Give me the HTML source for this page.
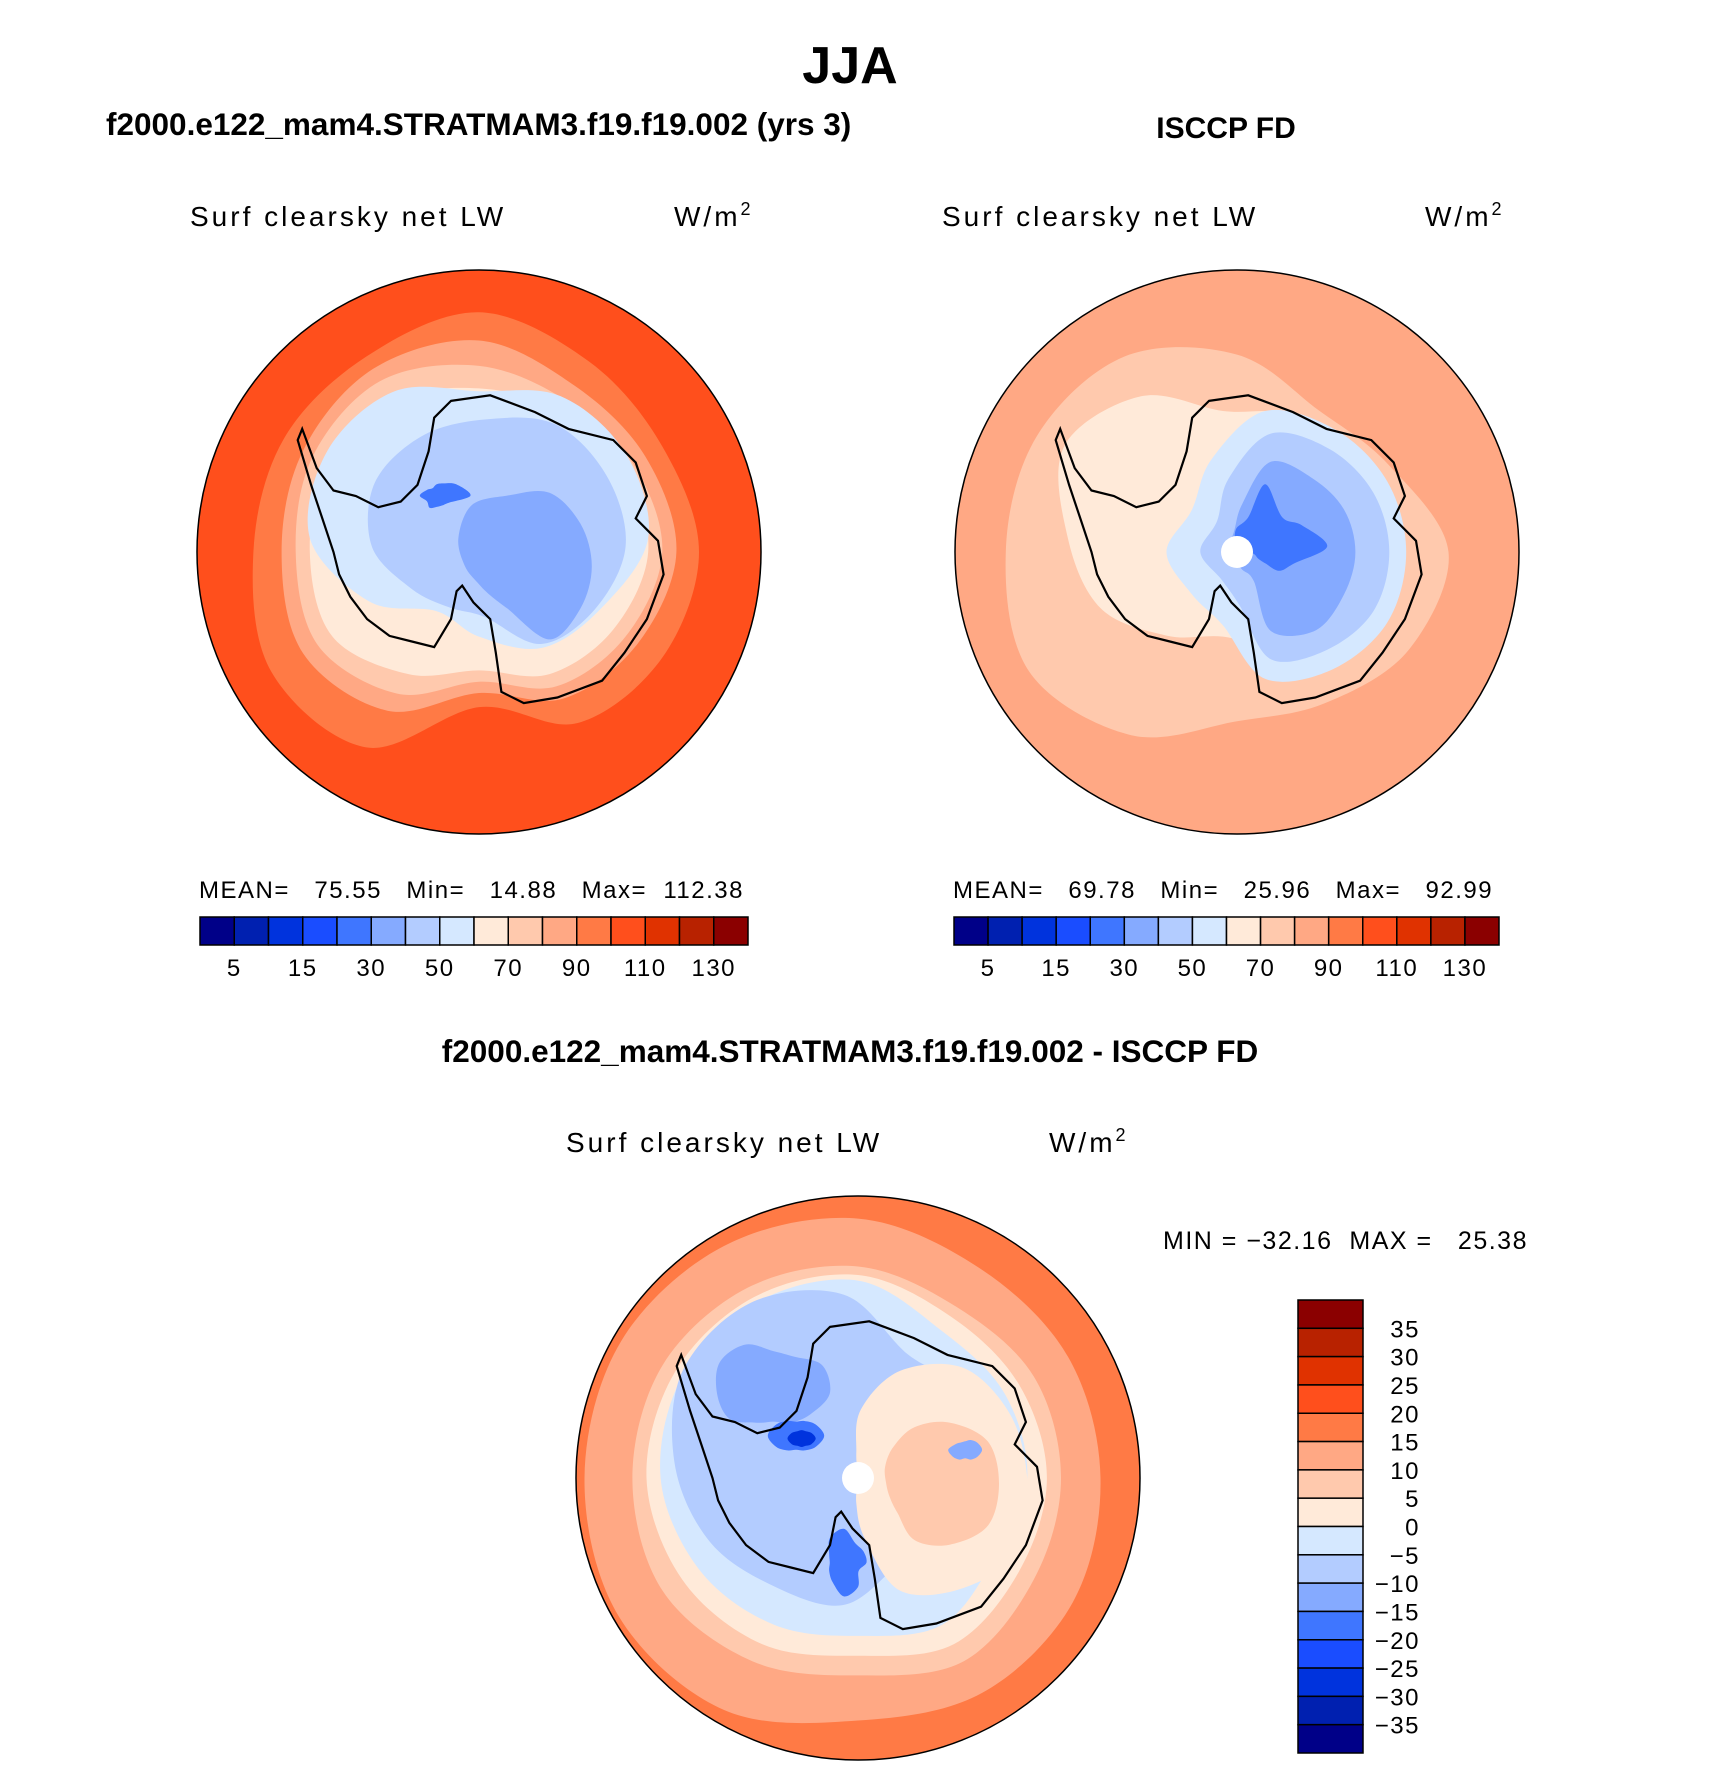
<!DOCTYPE html>
<html><head><meta charset="utf-8"><style>
body{margin:0;background:#fff;}
svg text{font-family:"Liberation Sans",sans-serif;}
</style></head><body>
<svg id="fig" width="1710" height="1763" viewBox="0 0 1710 1763" xmlns="http://www.w3.org/2000/svg">
<text x="850" y="83" font-size="52" font-weight="bold" text-anchor="middle">JJA</text>
<text x="106" y="135" font-size="31.5" font-weight="bold">f2000.e122_mam4.STRATMAM3.f19.f19.002 (yrs 3)</text>
<text x="1226" y="138" font-size="30" font-weight="bold" text-anchor="middle">ISCCP FD</text>
<text x="850" y="1062" font-size="31.5" font-weight="bold" text-anchor="middle">f2000.e122_mam4.STRATMAM3.f19.f19.002 - ISCCP FD</text>
<g font-size="28" letter-spacing="3">
<text x="190" y="226">Surf clearsky net LW</text>
<text x="674" y="226">W/m<tspan font-size="18" dy="-11">2</tspan></text>
<text x="942" y="226">Surf clearsky net LW</text>
<text x="1425" y="226">W/m<tspan font-size="18" dy="-11">2</tspan></text>
<text x="566" y="1152">Surf clearsky net LW</text>
<text x="1049" y="1152">W/m<tspan font-size="18" dy="-11">2</tspan></text>
</g>
<g font-size="24" letter-spacing="1.5">
<text x="199" y="898" xml:space="preserve">MEAN=   75.55   Min=   14.88   Max=  112.38</text>
<text x="953" y="898" xml:space="preserve">MEAN=   69.78   Min=   25.96   Max=   92.99</text>
<text x="1163" y="1249" font-size="25" xml:space="preserve">MIN = −32.16  MAX =   25.38</text>
</g>
<g id="maps"></g>
<g id="bars"></g>
</svg>
<script>
const colors=["#000088","#0020b0","#0033dd","#1a4dff","#3f76ff","#85aaff","#b3ccff","#d5e8ff","#ffead9","#ffc9ad","#ffa884","#ff7a45","#ff4f1c","#e03200","#b82200","#8b0000"];
const absLevels=[5,10,15,20,30,40,50,60,70,80,90,100,110,120,130];
const absLabels=["5","15","30","50","70","90","110","130"];
const diffLevels=[-35,-30,-25,-20,-15,-10,-5,0,5,10,15,20,25,30,35];
const diffLabels=["35","30","25","20","15","10","5","0","−5","−10","−15","−20","−25","−30","−35"];
const model=[
 {v:105,c:[0,0],r:[1,1,1,1,1,1,1,1,1,1,1,1]},
 {v:95,c:[0,0],r:[0.78,0.75,0.7,0.55,0.8,0.85,0.8,0.8,0.8,0.85,0.78,0.75]},
 {v:85,c:[0,0],r:[0.7,0.65,0.6,0.5,0.65,0.72,0.7,0.72,0.75,0.75,0.68,0.68]},
 {v:75,c:[0,0],r:[0.65,0.6,0.55,0.46,0.58,0.66,0.65,0.68,0.7,0.66,0.62,0.63]},
 {v:65,c:[0,0],r:[0.6,0.55,0.5,0.42,0.5,0.6,0.6,0.62,0.62,0.58,0.58,0.6]},
 {v:55,c:[0,-0.05],r:[0.6,0.5,0.45,0.35,0.3,0.45,0.6,0.62,0.6,0.52,0.58,0.6]},
 {v:45,c:[0.02,-0.02],r:[0.5,0.45,0.4,0.25,0.25,0.3,0.4,0.45,0.45,0.45,0.5,0.5]},
 {v:35,c:[0.1,0.05],r:[0.3,0.3,0.3,0.15,0.12,0.12,0.15,0.2,0.25,0.25,0.3,0.3]},
 {v:25,c:[-0.15,-0.2],r:[0.12,0.05,0.04,0.04,0.05,0.04,0.06,0.04,0.03,0.04,0.05,0.08]}
];
const obs=[
 {v:85,c:[0,0],r:[1,1,1,1,1,1,1,1,1,1,1,1]},
 {v:75,c:[0,0],r:[0.75,0.7,0.62,0.6,0.75,0.85,0.82,0.82,0.8,0.7,0.58,0.62]},
 {v:65,c:[-0.05,-0.05],r:[0.55,0.5,0.45,0.35,0.4,0.5,0.55,0.65,0.58,0.45,0.5,0.5]},
 {v:55,c:[0.1,0],r:[0.5,0.5,0.48,0.45,0.3,0.3,0.35,0.3,0.38,0.5,0.5,0.5]},
 {v:45,c:[0.12,0],r:[0.42,0.42,0.4,0.38,0.22,0.2,0.25,0.22,0.3,0.42,0.42,0.42]},
 {v:35,c:[0.12,0],r:[0.3,0.3,0.32,0.28,0.12,0.12,0.15,0.15,0.2,0.32,0.3,0.3]},
 {v:25,c:[0.1,-0.02],r:[0.22,0.12,0.1,0.06,0.05,0.05,0.1,0.12,0.12,0.22,0.12,0.15]}
];
const diff=[
 {v:17.5,c:[0,0],r:[1,1,1,1,1,1,1,1,1,1,1,1]},
 {v:12.5,c:[0,0],r:[0.86,0.88,0.88,0.86,0.95,0.98,0.97,0.97,0.95,0.92,0.86,0.86]},
 {v:7.5,c:[0,0],r:[0.72,0.72,0.75,0.7,0.75,0.8,0.8,0.8,0.78,0.75,0.7,0.72]},
 {v:2.5,c:[0,0],r:[0.67,0.66,0.68,0.63,0.68,0.72,0.75,0.75,0.74,0.72,0.66,0.66]},
 {v:-2.5,c:[0,0],r:[0.6,0.56,0.6,0.56,0.6,0.65,0.7,0.72,0.72,0.7,0.6,0.6]},
 {v:-7.5,c:[-0.05,-0.05],r:[0.45,0.4,0.4,0.5,0.5,0.55,0.6,0.66,0.66,0.6,0.45,0.5]},
 {v:2.5,c:[0.15,0],r:[0.45,0.5,0.45,0.4,0.25,0.18,0.15,0.18,0.28,0.38,0.45,0.45]},
 {v:7.5,c:[0.2,0.02],r:[0.3,0.3,0.25,0.2,0.12,0.1,0.1,0.12,0.15,0.2,0.25,0.3]},
 {v:-12.5,c:[-0.3,-0.3],r:[0.2,0.15,0.12,0.1,0.12,0.18,0.2,0.22,0.2,0.15,0.15,0.2]},
 {v:-17.5,c:[-0.22,-0.15],r:[0.1,0.08,0.06,0.05,0.06,0.08,0.1,0.08,0.06,0.05,0.06,0.08]},
 {v:-27.5,c:[-0.2,-0.14],r:[0.05,0.04,0.03,0.03,0.03,0.04,0.05,0.04,0.03,0.03,0.03,0.04]},
 {v:-17.5,c:[-0.05,0.3],r:[0.08,0.06,0.1,0.12,0.08,0.06,0.05,0.06,0.1,0.12,0.08,0.08]},
 {v:-12.5,c:[0.38,-0.1],r:[0.06,0.05,0.04,0.03,0.04,0.05,0.06,0.04,0.03,0.03,0.04,0.05]}
];
const coast=[[-25,-135],[10,-140],[50,-125],[80,-110],[120,-100],[140,-80],[150,-50],[140,-30],[160,-10],[165,20],[150,60],[130,90],[110,115],[70,130],[40,135],[20,125],[15,90],[10,60],[-5,45],[-15,30],[-20,35],[-25,60],[-40,85],[-60,80],[-80,75],[-100,60],[-115,40],[-125,20],[-130,0],[-140,-30],[-150,-60],[-162,-100],[-158,-110],[-145,-75],[-130,-55],[-110,-50],[-90,-40],[-70,-45],[-55,-60],[-45,-90],[-40,-120]].map(p=>[p[0]/252,p[1]/252]);
const NS="http://www.w3.org/2000/svg";
function colorFor(v,levels){let i=0;while(i<levels.length&&v>=levels[i])i++;return colors[i];}
function smoothPath(pts){let d="";const n=pts.length;for(let i=0;i<n;i++){const p0=pts[(i-1+n)%n],p1=pts[i],p2=pts[(i+1)%n],p3=pts[(i+2)%n];if(i===0)d+="M"+p1[0].toFixed(1)+","+p1[1].toFixed(1);const c1=[p1[0]+(p2[0]-p0[0])/6,p1[1]+(p2[1]-p0[1])/6],c2=[p2[0]-(p3[0]-p1[0])/6,p2[1]-(p3[1]-p1[1])/6];d+="C"+c1.map(x=>x.toFixed(1))+" "+c2.map(x=>x.toFixed(1))+" "+p2.map(x=>x.toFixed(1));}return d+"Z";}
function drawMap(name,cx,cy,R,layers,levels,hole){
 const g=document.createElementNS(NS,"g");
 
 
 const cid="clip-"+name;
 const cp=document.createElementNS(NS,"clipPath");cp.setAttribute("id",cid);
 const cc=document.createElementNS(NS,"circle");cc.setAttribute("cx",cx);cc.setAttribute("cy",cy);cc.setAttribute("r",R);cp.appendChild(cc);g.appendChild(cp);
 const inner=document.createElementNS(NS,"g");inner.setAttribute("clip-path","url(#"+cid+")");
 layers.forEach((L,k)=>{
  const pts=L.r.map((f,i)=>{const a=i*Math.PI/6;return[cx+L.c[0]*R+Math.cos(a)*f*R*(k===0?1.2:1),cy+L.c[1]*R+Math.sin(a)*f*R*(k===0?1.2:1)];});
  const p=document.createElementNS(NS,"path");
  
  
  p.setAttribute("d",smoothPath(pts));p.setAttribute("fill",colorFor(L.v,levels));inner.appendChild(p);
 });
 const c=document.createElementNS(NS,"polygon");
 
 
 c.setAttribute("points",coast.map(q=>(cx+q[0]*R).toFixed(1)+","+(cy+q[1]*R).toFixed(1)).join(" "));
 c.setAttribute("fill","none");c.setAttribute("stroke","#000");c.setAttribute("stroke-width","2.2");inner.appendChild(c);
 if(hole){const h=document.createElementNS(NS,"circle");
  
  
  h.setAttribute("cx",cx);h.setAttribute("cy",cy);h.setAttribute("r",16);h.setAttribute("fill","#fff");inner.appendChild(h);}
 g.appendChild(inner);
 const b=document.createElementNS(NS,"circle");
 
 
 b.setAttribute("cx",cx);b.setAttribute("cy",cy);b.setAttribute("r",R);b.setAttribute("fill","none");b.setAttribute("stroke","#000");b.setAttribute("stroke-width","1.5");g.appendChild(b);
 document.getElementById("maps").appendChild(g);
}
drawMap("model-map",479,552,282,model,absLevels,false);
drawMap("obs-map",1237,552,282,obs,absLevels,true);
drawMap("diff-map",858,1478,282,diff,diffLevels,true);
const bars=document.getElementById("bars");
function hbar(name,x0,x1,y0,y1){
 const w=(x1-x0)/colors.length;
 colors.forEach((col,i)=>{const r=document.createElementNS(NS,"rect");
  
  
  r.setAttribute("x",x0+i*w);r.setAttribute("y",y0);r.setAttribute("width",w);r.setAttribute("height",y1-y0);r.setAttribute("fill",col);r.setAttribute("stroke","#000");r.setAttribute("stroke-width","1.5");bars.appendChild(r);});
 absLabels.forEach((t,j)=>{const tx=document.createElementNS(NS,"text");
  
  
  tx.setAttribute("x",x0+(2*j+1)*w);tx.setAttribute("y",y1+31);tx.setAttribute("font-size","24");tx.setAttribute("letter-spacing","1.5");tx.setAttribute("text-anchor","middle");tx.textContent=t;bars.appendChild(tx);});
}
hbar("colorbar-model",200,748,917,945);
hbar("colorbar-obs",954,1499,917,945);
(function(){const x0=1298,x1=1363,y0=1300,y1=1753,h=(y1-y0)/colors.length;
 colors.slice().reverse().forEach((col,i)=>{const r=document.createElementNS(NS,"rect");
  
  
  r.setAttribute("x",x0);r.setAttribute("y",y0+i*h);r.setAttribute("width",x1-x0);r.setAttribute("height",h);r.setAttribute("fill",col);r.setAttribute("stroke","#000");r.setAttribute("stroke-width","1.5");bars.appendChild(r);});
 diffLabels.forEach((t,j)=>{const tx=document.createElementNS(NS,"text");
  
  
  tx.setAttribute("x",1420);tx.setAttribute("y",y0+(j+1)*h+9);tx.setAttribute("font-size","24");tx.setAttribute("letter-spacing","1.5");tx.setAttribute("text-anchor","end");tx.textContent=t;bars.appendChild(tx);});
})();
</script>
</body></html>
